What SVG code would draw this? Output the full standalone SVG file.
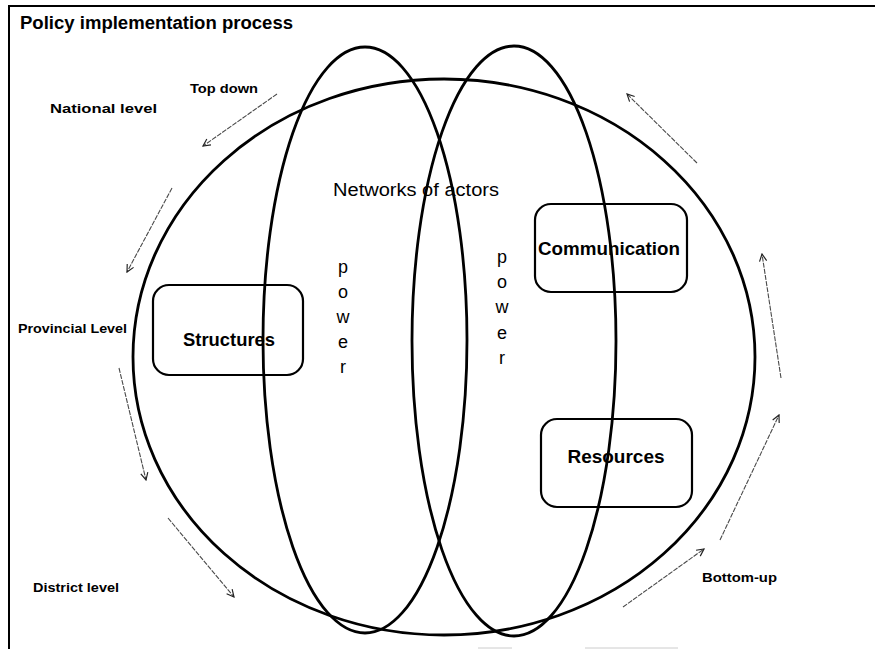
<svg xmlns="http://www.w3.org/2000/svg" width="875" height="649" viewBox="0 0 875 649">
  <style>
    .frame { stroke: #000; stroke-width: 2; fill: none; }
    .ring { stroke: #000; stroke-width: 2.8; fill: none; }
    .box { stroke: #000; stroke-width: 2.2; fill: none; }
    .flow { stroke: #4a4a4a; stroke-width: 1.1; fill: none; stroke-dasharray: 5 1.2; marker-end: url(#head); }
    .title { font-family: "Liberation Sans", Arial, sans-serif; font-weight: bold; font-size: 18px; fill: #000; }
    .lvl { font-family: "Liberation Sans", Arial, sans-serif; font-weight: bold; font-size: 13px; fill: #000; }
    .boxlabel { font-family: "Liberation Sans", Arial, sans-serif; font-weight: bold; font-size: 19px; fill: #000; text-anchor: middle; }
    .plain { font-family: "Liberation Sans", Arial, sans-serif; font-size: 18px; fill: #000; text-anchor: middle; }
  </style>
  <defs>
    <marker id="head" viewBox="0 0 10 10" refX="9" refY="5" markerWidth="9" markerHeight="9" markerUnits="userSpaceOnUse" orient="auto">
      <path d="M1,1 L9,5 L1,9" fill="none" stroke="#222" stroke-width="1.3"/>
    </marker>
  </defs>

  <rect width="875" height="649" fill="#fff"/>

  <!-- outer frame -->
  <g id="frame">
    <line class="frame" x1="9" y1="6" x2="875" y2="6"/>
    <line class="frame" x1="9" y1="5" x2="9" y2="649"/>
    <line x1="478" y1="648" x2="512" y2="648" stroke="#ccc" stroke-width="1"/>
    <line x1="585" y1="648" x2="678" y2="648" stroke="#ccc" stroke-width="1"/>
  </g>

  <text class="title" x="20" y="29" textLength="273" lengthAdjust="spacingAndGlyphs">Policy implementation process</text>

  <!-- overlapping rings -->
  <g id="networks">
    <ellipse class="ring" cx="444" cy="357" rx="311" ry="278"/>
    <text class="plain" x="416" y="196" textLength="166" lengthAdjust="spacingAndGlyphs">Networks of actors</text>
  </g>
  <g id="power-left">
    <ellipse class="ring" cx="365" cy="340" rx="102" ry="293"/>
    <text class="plain" x="343" y="273">p</text>
    <text class="plain" x="343" y="298">o</text>
    <text class="plain" x="343" y="323">w</text>
    <text class="plain" x="343" y="348">e</text>
    <text class="plain" x="343" y="373">r</text>
  </g>
  <g id="power-right">
    <ellipse class="ring" cx="514" cy="341" rx="102" ry="295"/>
    <text class="plain" x="502" y="263">p</text>
    <text class="plain" x="502" y="288">o</text>
    <text class="plain" x="502" y="313">w</text>
    <text class="plain" x="502" y="339">e</text>
    <text class="plain" x="502" y="364">r</text>
  </g>

  <!-- boxes -->
  <g id="structures">
    <rect class="box" x="153" y="285" width="150" height="90" rx="16"/>
    <text class="boxlabel" x="229" y="346" textLength="92" lengthAdjust="spacingAndGlyphs">Structures</text>
  </g>
  <g id="communication">
    <rect class="box" x="535" y="204" width="152" height="88" rx="16"/>
    <text class="boxlabel" x="609" y="255" textLength="142" lengthAdjust="spacingAndGlyphs">Communication</text>
  </g>
  <g id="resources">
    <rect class="box" x="541" y="419" width="151" height="88" rx="16"/>
    <text class="boxlabel" x="616" y="463">Resources</text>
  </g>

  <!-- level labels -->
  <g id="labels">
    <text class="lvl" x="190" y="93" textLength="68" lengthAdjust="spacingAndGlyphs">Top down</text>
    <text class="lvl" x="50" y="113" textLength="107" lengthAdjust="spacingAndGlyphs">National level</text>
    <text class="lvl" x="18" y="333" textLength="109" lengthAdjust="spacingAndGlyphs">Provincial Level</text>
    <text class="lvl" x="33" y="592" textLength="86" lengthAdjust="spacingAndGlyphs">District level</text>
    <text class="lvl" x="702" y="582" textLength="75" lengthAdjust="spacingAndGlyphs">Bottom-up</text>
  </g>

  <!-- flow arrows -->
  <g id="connectors">
    <line class="flow" x1="277" y1="94" x2="203" y2="146"/>
    <line class="flow" x1="172" y1="188" x2="127" y2="272"/>
    <line class="flow" x1="119" y1="368" x2="146" y2="480"/>
    <line class="flow" x1="168" y1="518" x2="234" y2="597"/>
    <line class="flow" x1="623" y1="607" x2="704" y2="549"/>
    <line class="flow" x1="720" y1="540" x2="779" y2="415"/>
    <line class="flow" x1="781" y1="378" x2="762" y2="254"/>
    <line class="flow" x1="697" y1="163" x2="627" y2="94"/>
  </g>
</svg>
